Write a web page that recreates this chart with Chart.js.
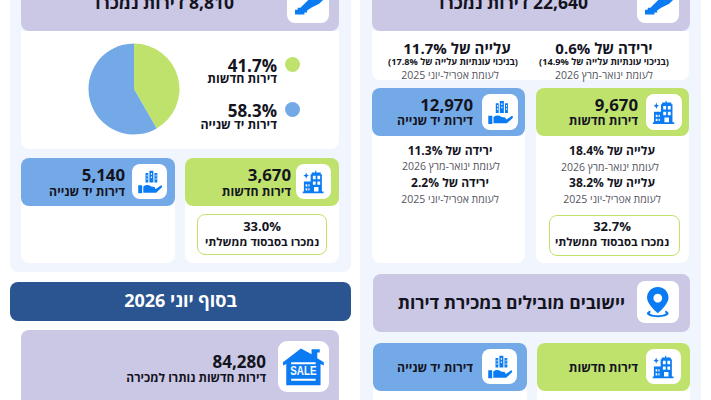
<!DOCTYPE html>
<html lang="he" dir="rtl">
<head>
<meta charset="utf-8">
<script src="https://cdn.jsdelivr.net/npm/chart.js@4"></script>
<style>
html, body { margin: 0; padding: 0; background: #fff; overflow: hidden; }
#page { position: relative; width: 711px; height: 400px; overflow: hidden; font-family: "Open Sans", "Noto Sans", sans-serif; color: #14141e; }
.box { position: absolute; }
.t { position: absolute; white-space: nowrap; line-height: 1; transform: translateY(-50%); }
.c { transform: translate(50%, -50%); text-align: center; }
.b { font-weight: 700; }
svg { position: absolute; }
</style>
</head>
<body>
<div id="page"></div>
<script>
const categories = ['דירות חדשות', 'דירות יד שנייה'];
const shares = [41.7, 58.3];
const pieColors = ['#bfe26d', '#74a9e8'];

const soldTotal = ['8,810', '22,640'];
const soldNew = ['3,670', '9,670'];
const soldUsed = ['5,140', '12,970'];
const subsidized = ['33.0%', '32.7%'];
const unsoldNew = '84,280';

const page = document.getElementById('page');

function box(x, y, w, h, bg, r, extra) {
	const d = document.createElement('div');
	d.className = 'box';
	d.style.cssText = `left:${x}px;top:${y}px;width:${w}px;height:${h}px;background:${bg};border-radius:${r};${extra || ''}`;
	page.appendChild(d);
	return d;
}

// right = distance of text's right edge from page left
function text(str, right, y, size, bold, color, center) {
	const d = document.createElement('div');
	d.className = 't' + (center ? ' c' : '') + (bold ? ' b' : '');
	d.textContent = str;
	d.style.right = (711 - right) + 'px';
	d.style.top = y + 'px';
	d.style.fontSize = size + 'px';
	if (color) d.style.color = color;
	page.appendChild(d);
}

function icon(kind, x, y, size) {
	const blue = '#0a7bf2';
	const shapes = {
		key: `<path d="M6 44 L6 37 L10 37 L10 34 L14 34 L28 20 L34 12 L50 12 L50 20 L42 28 L30 34 L24 38 L24 41 L20 41 L20 44 Z" fill="${blue}"/>`,
		building: `<path d="M21 8 L27 8 L27 5 L29 5 L29 8 L37 8 L37 11 L39 11 L39 42 L42 42 L42 45 L5 45 L5 42 L7 42 L7 24 L19 24 L19 11 L21 11 Z" fill="${blue}"/>
			<path d="M23 14h5v6h-5zM31 14h5v6h-5zM23 24h5v6h-5zM31 24h5v6h-5zM25 34h8v8h-8zM10 29h3v4h-3zM15 29h2v4h-2zM10 36h3v4h-3zM15 36h2v4h-2z" fill="#fff"/>
			<path d="M11 8 L12.500 12 L16 13.500 L12.500 15 L11 19 L9.500 15 L6 13.500 L9.500 12 Z" fill="${blue}"/>`,
		hand: `<path d="M17 9h5v17h-5zM24 5h7v21h-7zM33 9h5v17h-5z" fill="${blue}"/>
			<path d="M19 12h1.500v3h-1.500zM19 18h1.500v3h-1.500zM26.500 9h2v3h-2zM26.500 15h2v3h-2zM35 12h1.500v3h-1.500zM35 18h1.500v3h-1.500z" fill="#fff"/>
			<path d="M4 31h7v14h-7z M13 33 Q20 28 27 33 L33 34 Q36 36 33 38 L25 38 L36 37 L45 31 Q48 32 46 35 L36 44 L13 44 Z" fill="${blue}"/>`,
		sale: `<path d="M22 3 L35 10 L35 4 L45 4 L45 8 L42 8 L42 15 L50 20 L50 24 L46 22 L46 48 L4 48 L4 22 L0 24 L0 20 Z" fill="${blue}"/>
			<path d="M10 20h30v2.500h-30zM10 40h30v2.500h-30z" fill="#fff"/>
			<text x="25" y="36" text-anchor="middle" direction="ltr" textLength="32" lengthAdjust="spacingAndGlyphs" font-family="Liberation Sans Narrow, Liberation Sans" font-weight="700" font-size="16" fill="#fff">SALE</text>`,
		pin: `<path fill-rule="evenodd" d="M25 3 C15 3 9 11 9 19 C9 27 19 37 25 42 C31 37 41 27 41 19 C41 11 35 3 25 3 Z M25 13 A6.500 6.500 0 1 1 24.900 13 Z" fill="${blue}"/>
			<path d="M14 38 C6 41 6 47 25 48 C44 47 44 41 36 38 L36 41 C39 43 33 45 25 45 C17 45 11 43 14 41 Z" fill="${blue}"/>`
	};
	const s = document.createElementNS('http://www.w3.org/2000/svg', 'svg');
	s.setAttribute('viewBox', '0 0 50 50');
	s.setAttribute('width', size);
	s.setAttribute('height', size);
	s.style.left = x + 'px';
	s.style.top = y + 'px';
	s.innerHTML = shapes[kind];
	page.appendChild(s);
}

function iconBox(kind, x, y, size, r) {
	box(x, y, size, size, '#fff', (r || 8) + 'px');
	icon(kind, x + size * 0.1, y + size * 0.1, size * 0.8);
}

const purple = '#cbc8e6', panel = '#f1f5fd', green = pieColors[0], blue = pieColors[1];
const grey = '#55555f';

// panels
box(10, -20, 341, 292, panel, '8px');
box(360, -20, 341, 440, panel, '8px');

// left column, June quarter
box(21, -20, 318, 51, purple, '8px');
iconBox('key', 287, -19, 42);
text(soldTotal[0] + ' דירות נמכרו', 234, 2.500, 17.500, true);
box(21, 31, 318, 118, '#fff', '0 0 8px 8px');
box(285, 57, 15, 15, green, '50%');
box(285, 102, 15, 15, blue, '50%');
text(shares[0].toFixed(1) + '%', 277, 65, 17, true);
text(categories[0], 277, 79, 12.400, true);
text(shares[1].toFixed(1) + '%', 277, 110, 17, true);
text(categories[1], 277, 125, 12.400, true);

box(185, 158, 154, 105, '#fff', '8px');
box(21, 158, 154, 105, '#fff', '8px');
box(185, 158, 154, 48, green, '8px');
box(21, 158, 154, 48, blue, '8px');
iconBox('building', 296, 164, 35);
iconBox('hand', 132, 164, 35);
text(soldNew[0], 291, 175, 16.800, true);
text(categories[0], 291, 192, 12.300, true);
text(soldUsed[0], 125, 175, 16.800, true);
text(categories[1], 125, 192, 12.300, true);
box(197, 214, 130, 41, '#fff', '8px', `border:1px solid ${green};box-sizing:border-box;`);
text(subsidized[0], 262, 226, 13, true, null, true);
text('נמכרו בסבסוד ממשלתי', 262, 242, 11.500, true, null, true);

// end of June banner
box(10, 281.500, 341, 39, '#2a5590', '8px');
text('בסוף יוני 2026', 180.500, 300, 18, true, '#fff', true);
box(21, 329.500, 318, 90, purple, '8px');
iconBox('sale', 278, 341, 51, 9);
text(unsoldNew, 266, 361, 17, true);
text('דירות חדשות נותרו למכירה', 266, 378, 12, true);

// right column, half year
box(372, -20, 318, 51, purple, '8px');
iconBox('key', 637, -19, 42);
text(soldTotal[1] + ' דירות נמכרו', 588, 2.500, 17.500, true);
box(372, 31, 317, 49, '#fff', '0 0 8px 8px');
text('ירידה של 0.6%', 604, 48, 15, true, null, true);
text('(בניכוי עונתיות עלייה של 14.9%)', 604, 62, 9.200, true, null, true);
text('לעומת ינואר-מרץ 2026', 604, 75, 10.500, false, grey, true);
text('עלייה של 11.7%', 457, 48, 15, true, null, true);
text('(בניכוי עונתיות עלייה של 17.8%)', 453, 62, 9.200, true, null, true);
text('לעומת אפריל-יוני 2025', 450, 75, 10.500, false, grey, true);

box(536, 88, 153, 175, '#fff', '8px');
box(372, 88, 153, 175, '#fff', '8px');
box(536, 88, 153, 48, green, '8px');
box(372, 88, 153, 48, blue, '8px');
iconBox('building', 646, 94, 36);
iconBox('hand', 482, 94, 36);
text(soldNew[1], 638, 105, 16.800, true);
text(categories[0], 638, 121, 12.300, true);
text(soldUsed[1], 473, 105, 16.800, true);
text(categories[1], 473, 121, 12.300, true);

text('עלייה של 18.4%', 612, 151, 12, true, null, true);
text('לעומת ינואר-מרץ 2026', 610, 167, 10.500, false, grey, true);
text('עלייה של 38.2%', 612, 183, 12, true, null, true);
text('לעומת אפריל-יוני 2025', 612, 199, 10.500, false, grey, true);
text('ירידה של 11.3%', 450, 151, 12, true, null, true);
text('לעומת ינואר-מרץ 2026', 451, 166, 10.500, false, grey, true);
text('ירידה של 2.2%', 450, 183, 12, true, null, true);
text('לעומת אפריל-יוני 2025', 450, 199, 10.500, false, grey, true);
box(548.500, 215, 131, 41, '#fff', '8px', `border:1px solid ${green};box-sizing:border-box;`);
text(subsidized[1], 612, 226, 13, true, null, true);
text('נמכרו בסבסוד ממשלתי', 612, 242, 11.500, true, null, true);

box(373, 273.500, 317, 58, purple, '8px');
iconBox('pin', 637, 280.500, 42);
text('יישובים מובילים במכירת דירות', 625, 303, 17.500, true);

box(537, 343, 153, 80, '#fff', '8px');
box(373, 343, 154, 80, '#fff', '8px');
box(537, 343, 153, 48, green, '8px');
box(373, 343, 154, 48, blue, '8px');
iconBox('building', 646, 349, 35);
iconBox('hand', 482, 349, 35);
text(categories[0], 638, 368, 12.300, true);
text(categories[1], 473, 368, 12.300, true);

// the pie
const canvas = document.createElement('canvas');
canvas.style.cssText = 'position:absolute;left:88px;top:43px;width:92px;height:92px;';
canvas.width = 92;
canvas.height = 92;
page.appendChild(canvas);

new Chart(canvas, {
	type: 'pie',
	data: {
		labels: categories,
		datasets: [{
			data: shares,
			backgroundColor: pieColors,
			borderWidth: 0,
			hoverOffset: 0
		}]
	},
	options: {
		responsive: false,
		animation: false,
		layout: { padding: 0.5 },
		plugins: {
			legend: { display: false },
			tooltip: { enabled: false }
		}
	}
});
</script>
</body>
</html>
